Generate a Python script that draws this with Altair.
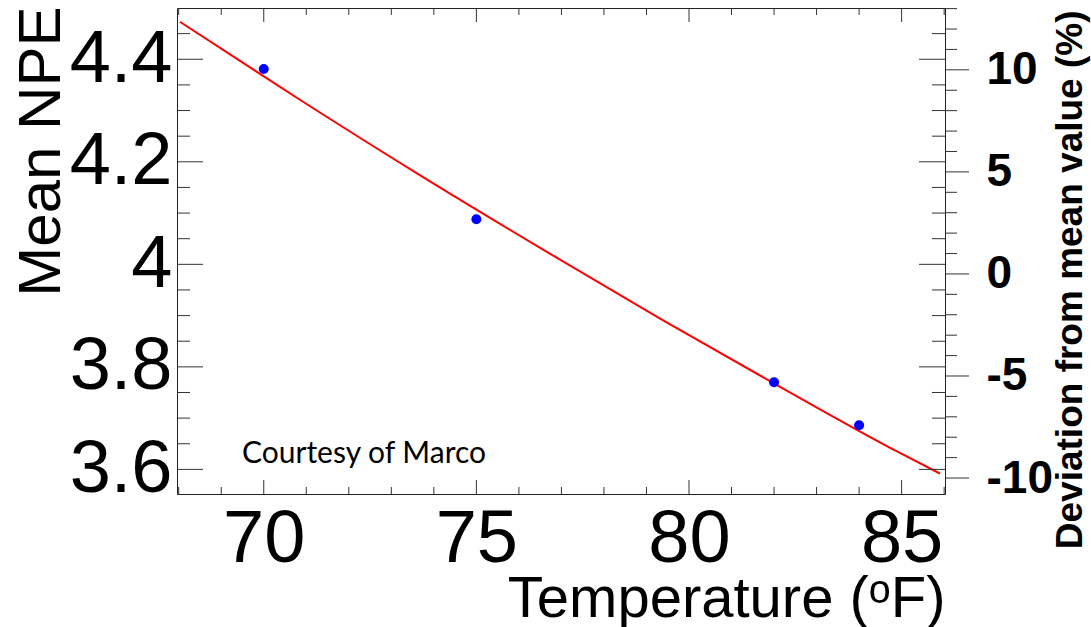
import altair as alt
import pandas as pd

# ---- data ----
temps = [70, 75, 82, 84]
npe = [4.381, 4.088, 3.770, 3.686]

fit_temp = [68.03, 70.85, 73.67, 76.50, 79.32, 82.14, 84.96, 85.90]
fit_npe = [4.473, 4.321, 4.174, 4.032, 3.894, 3.761, 3.632, 3.592]

npe_major = [3.6, 3.8, 4.0, 4.2, 4.4]
npe_minor = [3.65, 3.7, 3.75, 3.85, 3.9, 3.95, 4.05, 4.1, 4.15, 4.25, 4.3, 4.35, 4.45]
temp_major = [70, 75, 80, 85]
temp_minor = [68, 69, 71, 72, 73, 74, 76, 77, 78, 79, 81, 82, 83, 84, 86]
pct_major = [-10, -5, 0, 5, 10]
pct_minor = [-9, -8, -7, -6, -4, -3, -2, -1, 1, 2, 3, 4, 6, 7, 8, 9, 11, 12, 13]

x_dom = [67.96, 86.02]
y_dom = [3.552, 4.5]
mean_npe = sum(npe) / len(npe)
pct_dom = [(y_dom[0] / mean_npe - 1) * 100, (y_dom[1] / mean_npe - 1) * 100]

W, H = 768, 486
FONT = "Liberation Sans"
TICK = "#333333"

xs = alt.Scale(domain=x_dom, nice=False, zero=False)
ys = alt.Scale(domain=y_dom, nice=False, zero=False)
ps = alt.Scale(domain=pct_dom, nice=False, zero=False)

pts = pd.DataFrame({"t": temps, "npe": npe})
fit = pd.DataFrame({"t": fit_temp, "npe": fit_npe})

x_axis = alt.Axis(values=temp_major, format="d", ticks=False, domain=False, grid=False,
                  labelFontSize=74, labelFont=FONT, labelPadding=9, labelColor="black",
                  labelOverlap=False,
                  title="Temperature (ᵒF)", titleFont=FONT, titleFontSize=58,
                  titleFontWeight="normal", titleColor="black",
                  titleAlign="right", titleBaseline="alphabetic", titleX=W, titleY=122)
y_axis = alt.Axis(orient="left", values=npe_major, format="~g", ticks=False, domain=False,
                  grid=False, labelFontSize=74, labelFont=FONT, labelPadding=5,
                  labelColor="black", labelOverlap=False,
                  title="Mean NPE", titleFont=FONT, titleFontSize=60,
                  titleFontWeight="normal", titleColor="black", titleAngle=270,
                  titleAlign="right", titleBaseline="alphabetic", titleX=-118, titleY=-2)
p_axis = alt.Axis(orient="right", values=pct_major, labelExpr="datum.value + ''",
                  ticks=False, domain=False, grid=False, labelFontSize=46,
                  labelFontWeight="bold", labelFont=FONT, labelPadding=41,
                  labelColor="black", labelOverlap=False,
                  title="Deviation from mean value (%)", titleFont=FONT, titleFontSize=37,
                  titleFontWeight="bold", titleColor="black", titleAngle=270,
                  titleAlign="right", titleBaseline="alphabetic", titleX=136, titleY=2)

line = alt.Chart(fit).mark_line(color="#ff0000", strokeWidth=2, interpolate="monotone").encode(
    x=alt.X("t:Q", scale=xs, axis=x_axis),
    y=alt.Y("npe:Q", scale=ys, axis=y_axis),
)
points = alt.Chart(pts).mark_circle(size=100, color="#0000ff", opacity=1).encode(
    x=alt.X("t:Q", scale=xs, axis=x_axis),
    y=alt.Y("npe:Q", scale=ys, axis=y_axis),
)


def yticks(vals, x0, x1):
    return alt.Chart(pd.DataFrame({"v": vals})).mark_rule(color=TICK, strokeWidth=1).encode(
        y=alt.Y("v:Q", scale=ys, axis=y_axis), x=alt.value(x0), x2=alt.value(x1))


def xticks(vals, y0, y1):
    return alt.Chart(pd.DataFrame({"v": vals})).mark_rule(color=TICK, strokeWidth=1).encode(
        x=alt.X("v:Q", scale=xs, axis=x_axis), y=alt.value(y0), y2=alt.value(y1))


note = alt.Chart(pd.DataFrame({"txt": ["Courtesy of Marco"]})).mark_text(
    font="Lato", fontSize=30, align="left", baseline="alphabetic", color="black"
).encode(text="txt:N", x=alt.value(65), y=alt.value(455))

main = alt.layer(
    line, points,
    yticks(npe_major, 0, 26), yticks(npe_minor, 0, 13),
    yticks(npe_major, W - 26, W), yticks(npe_minor, W - 13, W),
    xticks(temp_major, H, H - 14), xticks(temp_minor, H, H - 7),
    xticks(temp_major, 0, 14), xticks(temp_minor, 0, 7),
    note,
)

pmaj = alt.Chart(pd.DataFrame({"p": pct_major})).mark_rule(color=TICK, strokeWidth=1).encode(
    y=alt.Y("p:Q", scale=ps, axis=p_axis), x=alt.value(W), x2=alt.value(W + 24))
pmin = alt.Chart(pd.DataFrame({"p": pct_minor})).mark_rule(color=TICK, strokeWidth=1).encode(
    y=alt.Y("p:Q", scale=ps, axis=p_axis), x=alt.value(W), x2=alt.value(W + 12))
pct = alt.layer(pmaj, pmin)

chart = alt.layer(main, pct).resolve_scale(y="independent").properties(
    width=W, height=H,
    padding={"left": 177, "top": 8, "right": 146, "bottom": 133},
    autosize=alt.AutoSizeParams(type="none"),
    background="white",
).configure_view(stroke="#222222", strokeWidth=1)

chart.save("out.html", embed_options={"renderer": "svg", "actions": False})
